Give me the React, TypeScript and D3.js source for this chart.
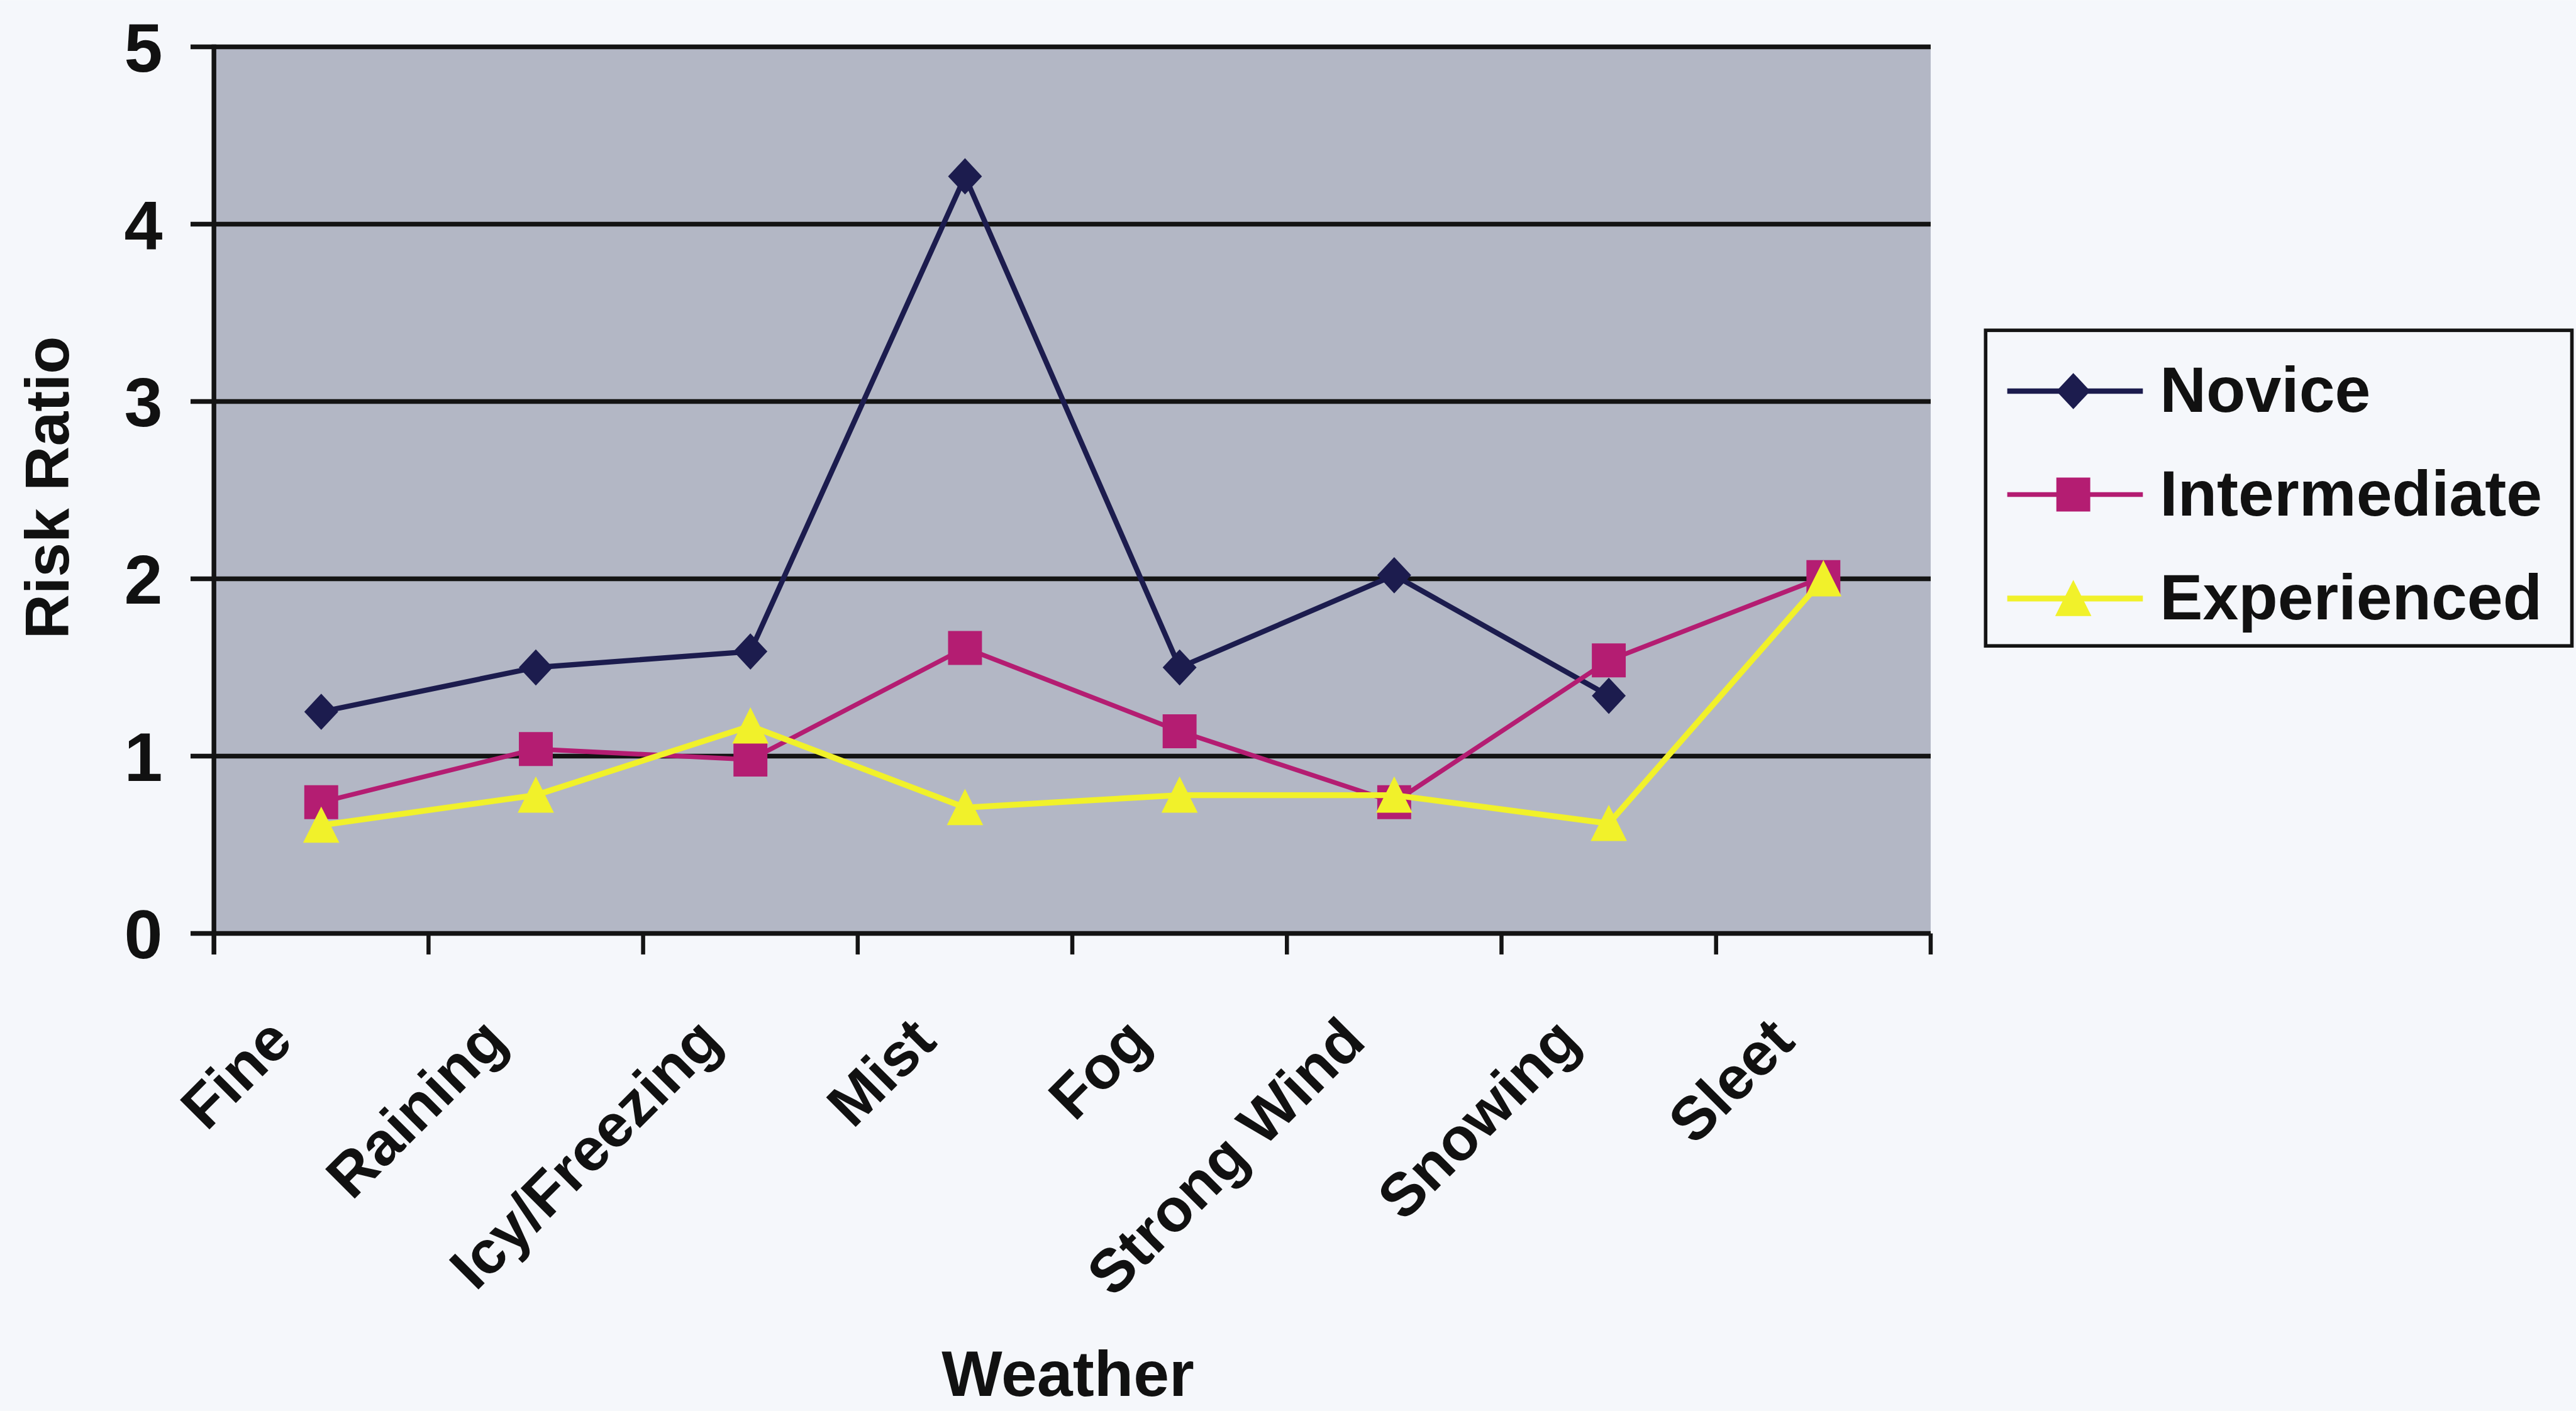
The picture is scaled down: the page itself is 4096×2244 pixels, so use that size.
import React from "react";
import * as d3 from "d3";

const categories = ["Fine", "Raining", "Icy/Freezing", "Mist", "Fog", "Strong Wind", "Snowing", "Sleet"];
const novice: (number | null)[] = [1.25, 1.5, 1.59, 4.27, 1.5, 2.02, 1.34, null];
const intermediate: (number | null)[] = [0.74, 1.04, 0.98, 1.61, 1.14, 0.74, 1.54, 2.01];
const experienced: (number | null)[] = [0.61, 0.78, 1.17, 0.71, 0.78, 0.78, 0.62, 2.0];
const yTicks = [0, 1, 2, 3, 4, 5];
const seriesNames = ["Novice", "Intermediate", "Experienced"];

const W = 4407;
const H = 2414;
const FONT = "'Liberation Sans', Arial, Helvetica, sans-serif";

const series = [
  { name: seriesNames[0], values: novice, color: "#1c1c4e", width: 9, marker: "diamond" },
  { name: seriesNames[1], values: intermediate, color: "#b41d72", width: 8, marker: "square" },
  { name: seriesNames[2], values: experienced, color: "#f1f12a", width: 10, marker: "triangle" },
];

function markerPath(kind: string): string {
  if (kind === "diamond") return "M0,-31L29,0L0,31L-29,0Z";
  if (kind === "square") return "M-29,-29L29,-29L29,29L-29,29Z";
  return "M0,-32L31,30L-31,30Z";
}

export default function App() {
  const left = 366;
  const right = 3303;
  const top = 80;
  const bottom = 1597;
  const x = d3.scaleBand<string>().domain(categories).range([left, right]).paddingInner(0).paddingOuter(0);
  const y = d3.scaleLinear().domain([0, 5]).range([bottom, top]);
  const cx = (c: string) => (x(c) as number) + x.bandwidth() / 2;

  const line = d3
    .line<number | null>()
    .defined((d) => d != null)
    .x((_, i) => cx(categories[i]))
    .y((d) => y(d as number));

  const boundaries = d3.range(categories.length + 1).map((i) => left + i * x.bandwidth());

  const legendX = 3397;
  const legendY = 565;
  const legendBaselines = [705, 882, 1060];

  return (
    <svg
      width={4096}
      height={2244}
      viewBox={`0 0 ${W} ${H}`}
      style={{ position: "absolute", left: 0, top: 0, display: "block" }}
    >
      <rect x={0} y={0} width={W} height={H} fill="#f5f7fb" />
      <rect x={left} y={top} width={right - left} height={bottom - top} fill="#b3b7c5" />
      {yTicks.filter((t) => t > 0).map((t) => (
        <line key={"g" + t} x1={left} x2={right} y1={y(t)} y2={y(t)} stroke="#141414" strokeWidth={8} />
      ))}
      {yTicks.map((t) => (
        <line key={"yt" + t} x1={326} x2={left} y1={y(t)} y2={y(t)} stroke="#141414" strokeWidth={8} />
      ))}
      <line x1={left} x2={right} y1={bottom} y2={bottom} stroke="#141414" strokeWidth={8} />
      {boundaries.map((b, i) => (
        <line key={"xt" + i} x1={b} x2={b} y1={bottom} y2={bottom + 36} stroke="#141414" strokeWidth={7} />
      ))}
      <line x1={left} x2={left} y1={top - 4} y2={bottom + 36} stroke="#141414" strokeWidth={8} />
      {yTicks.map((t) => (
        <text
          key={"yl" + t}
          x={278}
          y={y(t)}
          dy="0.36em"
          textAnchor="end"
          fontFamily={FONT}
          fontWeight="bold"
          fontSize={118}
          fill="#111"
        >
          {t}
        </text>
      ))}
      {categories.map((c) => {
        const px = cx(c) - 45;
        const py = 1786;
        return (
          <text
            key={"cl" + c}
            x={0}
            y={0}
            transform={`translate(${px},${py}) rotate(-45)`}
            textAnchor="end"
            fontFamily={FONT}
            fontWeight="bold"
            fontSize={104}
            fill="#111"
          >
            {c}
          </text>
        );
      })}
      <text
        transform={`translate(117,834) rotate(-90)`}
        textAnchor="middle"
        fontFamily={FONT}
        fontWeight="bold"
        fontSize={106}
        fill="#111"
      >
        Risk Ratio
      </text>
      <text x={1827} y={2388} textAnchor="middle" fontFamily={FONT} fontWeight="bold" fontSize={110} fill="#111">
        Weather
      </text>
      {series.map((s) => (
        <g key={s.name}>
          <path d={line(s.values) || ""} fill="none" stroke={s.color} strokeWidth={s.width} strokeLinejoin="round" />
          {s.values.map((v, i) =>
            v == null ? null : (
              <path
                key={i}
                d={markerPath(s.marker)}
                transform={`translate(${cx(categories[i])},${y(v)})`}
                fill={s.color}
              />
            )
          )}
        </g>
      ))}
      <rect x={legendX} y={legendY} width={1003} height={540} fill="#f5f7fb" stroke="#141414" strokeWidth={6} />
      {series.map((s, i) => {
        const ly = legendBaselines[i] - 36;
        return (
          <g key={"lg" + s.name}>
            <line x1={3434} x2={3666} y1={ly} y2={ly} stroke={s.color} strokeWidth={s.width} />
            <path d={markerPath(s.marker)} transform={`translate(3547,${ly})`} fill={s.color} />
            <text x={3695} y={legendBaselines[i]} fontFamily={FONT} fontWeight="bold" fontSize={110} fill="#111">
              {s.name}
            </text>
          </g>
        );
      })}
    </svg>
  );
}
